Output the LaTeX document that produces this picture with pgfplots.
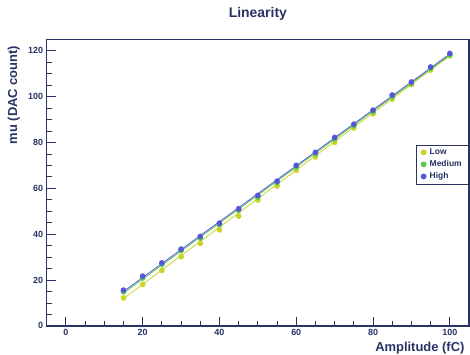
\documentclass[border=0pt]{standalone}
\usepackage{pgfplots}
\pgfplotsset{compat=1.18}
\usepackage{fontspec}
\setmainfont{Liberation Sans}
\definecolor{navy}{RGB}{40,50,100}
\definecolor{clow}{RGB}{200,212,40}
\definecolor{cmed}{RGB}{90,200,80}
\definecolor{chigh}{RGB}{85,85,220}
\begin{document}
\begin{tikzpicture}
\begin{axis}[
  scale only axis, width=422.3bp, height=286.6bp,
  xmin=-5, xmax=105, ymin=0, ymax=125,
  xtick={0,20,40,60,80,100}, ytick={0,20,40,60,80,100,120},
  minor x tick num=3, minor y tick num=3,
  tick align=inside, xtick pos=bottom, ytick pos=left,
  major tick length=9bp, minor tick length=5bp,
  every tick/.style={navy, line width=0.8bp},
  axis line style={navy, line width=1.2bp},
  ticklabel style={font=\bfseries\fontsize{9}{10}\selectfont, text=navy},
  /pgf/number format/assume math mode=true,
  title={Linearity},
  every axis title shift=0pt,
  title style={at={(axis description cs:0.5,1.0768)}, anchor=base, yshift=0pt, font=\bfseries\fontsize{14}{16}\selectfont, text=navy},
  xlabel={Amplitude (fC)},
  xlabel style={at={(axis description cs:0.9976,-0.091)}, anchor=base east, font=\bfseries\fontsize{13}{15}\selectfont, text=navy},
  ylabel={mu (DAC count)},
  ylabel style={at={(axis description cs:-0.0703,0.99)}, anchor=base east, font=\bfseries\fontsize{13}{15}\selectfont, text=navy},
  legend style={at={(axis description cs:1,0.563)}, anchor=east, draw=navy, line width=0.6bp,
    font=\bfseries\fontsize{8.5}{10}\selectfont, text=navy, inner xsep=5bp, inner ysep=1.5bp,
    row sep=0.5bp, column sep=1.5bp, cells={anchor=west}},
  legend image code/.code={\path[#1] plot coordinates {(2.6bp,0bp)};},
  legend cell align=left,
]
% fit lines
\addplot[clow, line width=0.8bp, forget plot] coordinates {(15,11.9) (100,117.8)};
\addplot[cmed, line width=0.8bp, forget plot] coordinates {(15,14.3) (100,118.1)};
\addplot[chigh, line width=0.8bp, forget plot] coordinates {(15,15.0) (100,118.6)};
% points
\addplot[only marks, mark=*, mark size=2.6bp, draw=none, mark options={fill=clow, draw=clow}] coordinates {
(15,12.2) (20,18.1) (25,24.2) (30,30.2) (35,36.0) (40,41.9) (45,47.9) (50,54.9) (55,61.0)
(60,67.9) (65,73.7) (70,80.0) (75,86.3) (80,92.5) (85,98.9) (90,105.2) (95,111.5) (100,117.8)};
\addlegendentry{Low}
\addplot[only marks, mark=*, mark size=2.6bp, draw=none, mark options={fill=cmed, draw=cmed}] coordinates {
(15,14.9) (20,20.9) (25,26.8) (30,32.8) (35,38.3) (40,44.1) (45,50.4) (50,56.2) (55,62.4)
(60,69.3) (65,75.0) (70,81.5) (75,87.3) (80,93.4) (85,100.0) (90,105.8) (95,112.3) (100,118.2)};
\addlegendentry{Medium}
\addplot[only marks, mark=*, mark size=2.6bp, draw=none, mark options={fill=chigh, draw=chigh}] coordinates {
(15,15.6) (20,21.7) (25,27.5) (30,33.5) (35,39.0) (40,44.8) (45,51.1) (50,56.9) (55,63.1)
(60,70.0) (65,75.7) (70,82.2) (75,88.0) (80,94.1) (85,100.7) (90,106.4) (95,112.9) (100,118.8)};
\addlegendentry{High}
\end{axis}
\pgfresetboundingbox
\path[use as bounding box] (-46.7bp,-29.1bp) rectangle (423.3bp,325.9bp);
\end{tikzpicture}
\end{document}
